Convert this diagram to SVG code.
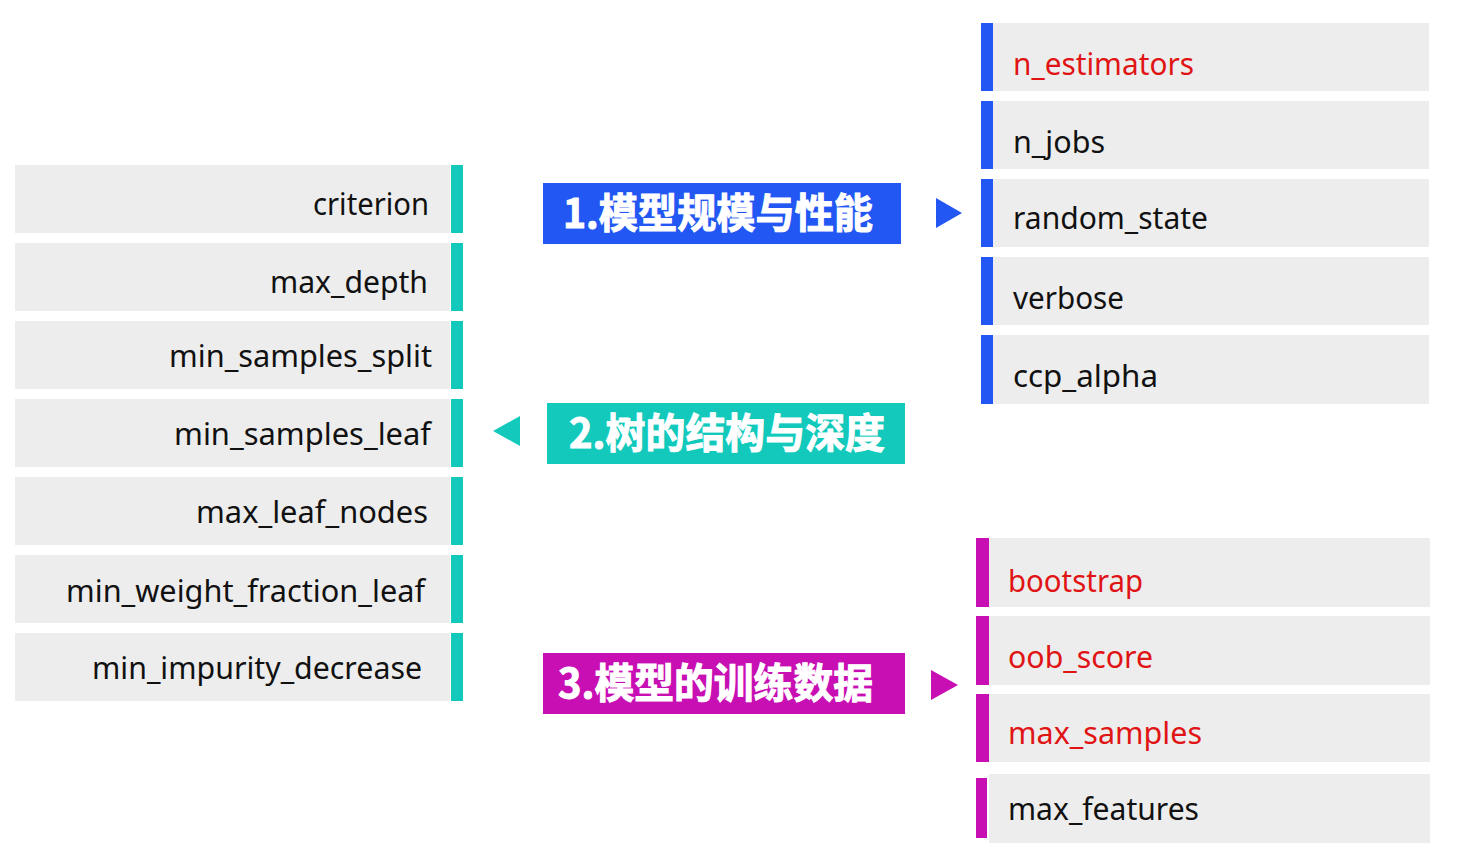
<svg xmlns="http://www.w3.org/2000/svg" width="1459" height="858" viewBox="0 0 1459 858">
<style>
.bg{fill:#ededed}
.teal{fill:#12c9bc}
.blue{fill:#2357f3}
.mag{fill:#c80fb3}
.t{font-family:"Noto Sans","Open Sans","Noto Sans CJK SC",sans-serif;font-size:31px;fill:#111}
.r{fill:#e01414}
.h{font-family:"Noto Sans CJK SC","Noto Sans",sans-serif;font-size:41px;font-weight:bold;fill:#fff;stroke:#fff;stroke-width:1px}
</style>
<rect width="1459" height="858" fill="#fff"/>

<g id="left">
<g id="n-criterion"><rect class="bg" x="15" y="165" width="435" height="68"/><rect class="teal" x="451" y="165" width="12" height="68"/><text class="t" x="429" y="215" text-anchor="end" textLength="116" lengthAdjust="spacingAndGlyphs">criterion</text></g>
<g id="n-max_depth"><rect class="bg" x="15" y="243" width="435" height="68"/><rect class="teal" x="451" y="243" width="12" height="68"/><text class="t" x="428" y="293" text-anchor="end" textLength="158" lengthAdjust="spacingAndGlyphs">max_depth</text></g>
<g id="n-min_samples_split"><rect class="bg" x="15" y="321" width="435" height="68"/><rect class="teal" x="451" y="321" width="12" height="68"/><text class="t" x="432" y="367" text-anchor="end" textLength="263" lengthAdjust="spacingAndGlyphs">min_samples_split</text></g>
<g id="n-min_samples_leaf"><rect class="bg" x="15" y="399" width="435" height="68"/><rect class="teal" x="451" y="399" width="12" height="68"/><text class="t" x="431" y="445" text-anchor="end" textLength="257" lengthAdjust="spacingAndGlyphs">min_samples_leaf</text></g>
<g id="n-max_leaf_nodes"><rect class="bg" x="15" y="477" width="435" height="68"/><rect class="teal" x="451" y="477" width="12" height="68"/><text class="t" x="428" y="523" text-anchor="end" textLength="232" lengthAdjust="spacingAndGlyphs">max_leaf_nodes</text></g>
<g id="n-min_weight_fraction_leaf"><rect class="bg" x="15" y="555" width="435" height="68"/><rect class="teal" x="451" y="555" width="12" height="68"/><text class="t" x="425" y="602" text-anchor="end" textLength="359" lengthAdjust="spacingAndGlyphs">min_weight_fraction_leaf</text></g>
<g id="n-min_impurity_decrease"><rect class="bg" x="15" y="633" width="435" height="68"/><rect class="teal" x="451" y="633" width="12" height="68"/><text class="t" x="422" y="679" text-anchor="end" textLength="330" lengthAdjust="spacingAndGlyphs">min_impurity_decrease</text></g>
</g>

<g id="topright">
<g id="n-n_estimators"><rect class="bg" x="993" y="23" width="436" height="68"/><rect class="blue" x="981" y="23" width="12" height="68"/><text class="t r" x="1013" y="75" textLength="181" lengthAdjust="spacingAndGlyphs">n_estimators</text></g>
<g id="n-n_jobs"><rect class="bg" x="993" y="101" width="436" height="68"/><rect class="blue" x="981" y="101" width="12" height="68"/><text class="t" x="1013" y="153" textLength="92" lengthAdjust="spacingAndGlyphs">n_jobs</text></g>
<g id="n-random_state"><rect class="bg" x="993" y="179" width="436" height="68"/><rect class="blue" x="981" y="179" width="12" height="68"/><text class="t" x="1013" y="229" textLength="195" lengthAdjust="spacingAndGlyphs">random_state</text></g>
<g id="n-verbose"><rect class="bg" x="993" y="257" width="436" height="68"/><rect class="blue" x="981" y="257" width="12" height="68"/><text class="t" x="1013" y="309" textLength="111" lengthAdjust="spacingAndGlyphs">verbose</text></g>
<g id="n-ccp_alpha"><rect class="bg" x="993" y="335" width="436" height="69"/><rect class="blue" x="981" y="335" width="12" height="69"/><text class="t" x="1013" y="387" textLength="145" lengthAdjust="spacingAndGlyphs">ccp_alpha</text></g>
</g>

<g id="bottomright">
<g id="n-bootstrap"><rect class="bg" x="989" y="538" width="441" height="69"/><rect class="mag" x="976" y="538" width="13" height="69"/><text class="t r" x="1008" y="592" textLength="135" lengthAdjust="spacingAndGlyphs">bootstrap</text></g>
<g id="n-oob_score"><rect class="bg" x="989" y="616" width="441" height="69"/><rect class="mag" x="976" y="616" width="13" height="69"/><text class="t r" x="1008" y="668" textLength="145" lengthAdjust="spacingAndGlyphs">oob_score</text></g>
<g id="n-max_samples"><rect class="bg" x="989" y="694" width="441" height="68"/><rect class="mag" x="976" y="694" width="13" height="68"/><text class="t r" x="1008" y="744" textLength="194" lengthAdjust="spacingAndGlyphs">max_samples</text></g>
<g id="n-max_features"><rect class="bg" x="989" y="774" width="441" height="69"/><rect class="mag" x="976" y="778" width="11" height="60"/><text class="t" x="1008" y="820" textLength="191" lengthAdjust="spacingAndGlyphs">max_features</text></g>
</g>

<g id="h1"><rect class="blue" x="543" y="183" width="358" height="61"/><text class="h" x="563" y="228" textLength="310" lengthAdjust="spacingAndGlyphs">1.模型规模与性能</text></g>
<g id="h2"><rect class="teal" x="547" y="403" width="358" height="61"/><text class="h" x="569" y="448" textLength="316" lengthAdjust="spacingAndGlyphs">2.树的结构与深度</text></g>
<g id="h3"><rect class="mag" x="543" y="653" width="362" height="61"/><text class="h" x="558" y="698" textLength="315" lengthAdjust="spacingAndGlyphs">3.模型的训练数据</text></g>

<g id="connectors">
<polygon class="blue" points="936,198 962,213 936,228"/>
<polygon class="teal" points="520,416 493,431 520,446"/>
<polygon class="mag" points="931,670 958,685 931,700"/>
</g>
</svg>
